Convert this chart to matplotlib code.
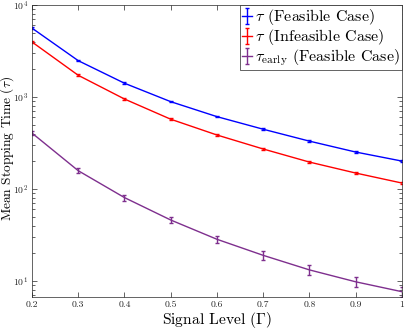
import numpy as np
import matplotlib
matplotlib.use("Agg")
import matplotlib.pyplot as plt
from matplotlib.ticker import FixedLocator, LogLocator, NullFormatter

plt.rcParams['font.family'] = 'serif'
plt.rcParams['font.serif'] = ['cmr10']
plt.rcParams['mathtext.fontset'] = 'cm'
plt.rcParams['axes.formatter.use_mathtext'] = True

signal = [0.2, 0.3, 0.4, 0.5, 0.6, 0.7, 0.8, 0.9, 1.0]
tau_feasible = [5600, 2480, 1410, 889, 611, 446, 331, 252, 201]
tau_feasible_err = [110, 50, 30, 18, 12, 9, 7, 5, 4]
tau_infeasible = [3960, 1720, 950, 573, 386, 272, 196, 149, 116]
tau_infeasible_err = [90, 40, 20, 12, 8, 6, 4, 3, 3]
tau_early = [405, 158, 80.6, 46, 28.4, 19.0, 13.2, 9.8, 7.65]
tau_early_err = [20, 9, 6, 3.5, 2.5, 2.0, 1.6, 1.2, 1.0]
xtick_labels = ['0.2', '0.3', '0.4', '0.5', '0.6', '0.7', '0.8', '0.9', '1']

fig = plt.figure(figsize=(4.07, 3.30), dpi=100)
ax = fig.add_axes([0.0786, 0.10, 0.909, 0.885])

ax.errorbar(signal, tau_feasible, yerr=tau_feasible_err, color='#0000ff', lw=1,
            capsize=1.5, elinewidth=1, label=r'$\tau$ (Feasible Case)')
ax.errorbar(signal, tau_infeasible, yerr=tau_infeasible_err, color='#ff0000', lw=1,
            capsize=1.5, elinewidth=1, label=r'$\tau$ (Infeasible Case)')
ax.errorbar(signal, tau_early, yerr=tau_early_err, color='#7e2f8e', lw=1,
            capsize=1.5, elinewidth=1, label=r'$\tau_{\rm early}$ (Feasible Case)')

ax.set_yscale('log')
ax.set_xlim(0.2, 1.0)
ax.set_ylim(6.7, 1e4)
ax.xaxis.set_major_locator(FixedLocator(signal))
ax.set_xticklabels(xtick_labels)
ax.yaxis.set_major_locator(LogLocator(base=10, numticks=10))
ax.yaxis.set_minor_locator(LogLocator(base=10, subs=np.arange(2, 10), numticks=20))
ax.yaxis.set_minor_formatter(NullFormatter())

ax.tick_params(which='both', direction='in', top=True, right=True, colors='#262626',
               labelsize=7, width=0.5, pad=2.5)
ax.tick_params(which='major', length=3.5)
ax.tick_params(which='minor', length=2)
for s in ax.spines.values():
    s.set_color('#262626')
    s.set_linewidth(0.5)

# axis labels, font size fitted to the length seen in the reference (pixels)
xl = ax.set_xlabel(r'Signal Level ($\Gamma$)', fontsize=12)
yl = ax.set_ylabel(r'Mean Stopping Time ($\tau$)', fontsize=10)
r = fig.canvas.get_renderer()
xl.set_fontsize(12 * 110 / xl.get_window_extent(r).width)
yl.set_fontsize(10 * 145 / yl.get_window_extent(r).height)
ax.xaxis.set_label_coords(0.5, -0.046)
ax.yaxis.set_label_coords(-0.044, 0.51)

leg = ax.legend(loc='upper right', fontsize=11.5, handlelength=0.6, handletextpad=0.2,
                borderpad=0.15, labelspacing=0.0, borderaxespad=0.0, fancybox=False,
                framealpha=1)
leg.get_frame().set_edgecolor('#262626')
leg.get_frame().set_linewidth(0.5)

fig.savefig('out.png', dpi=100)
